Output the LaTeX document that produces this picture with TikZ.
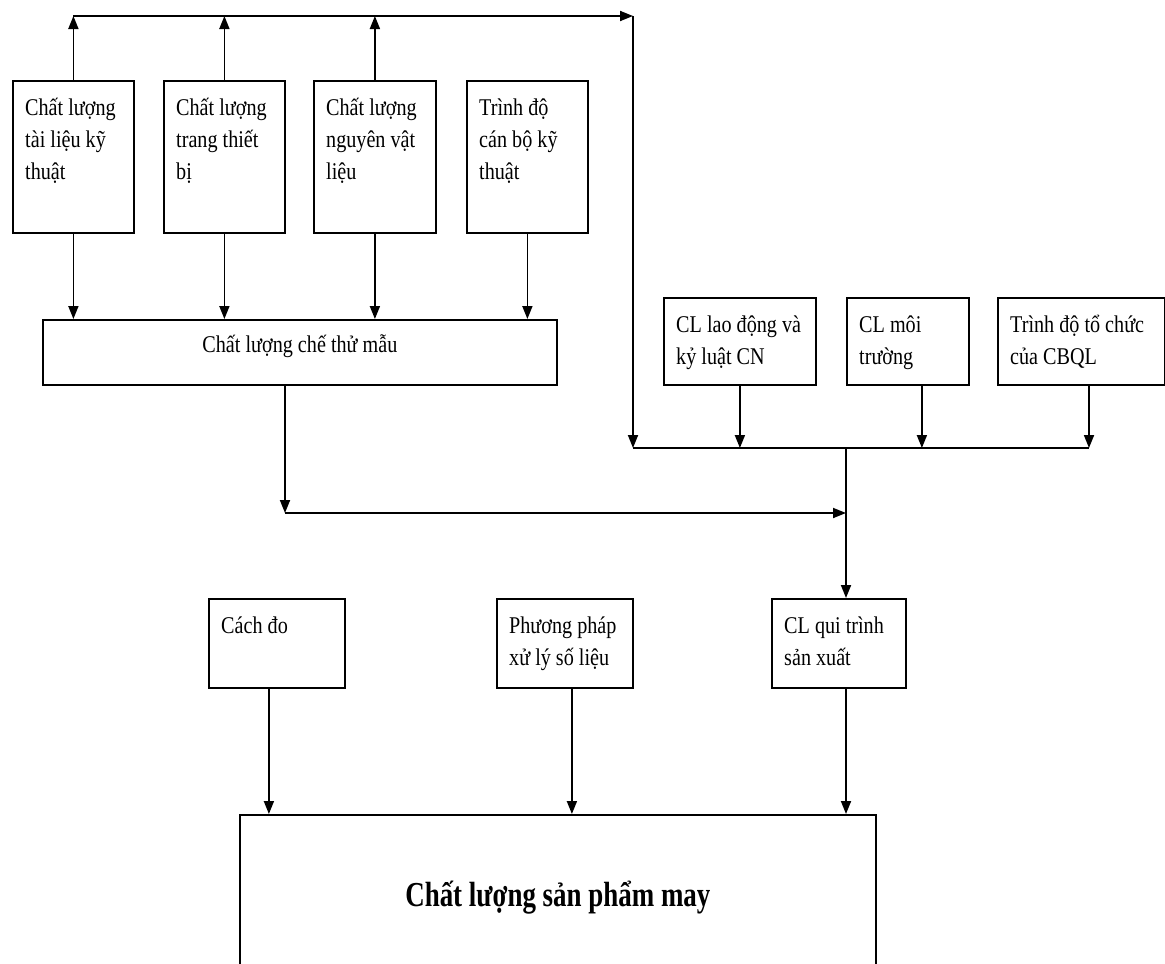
\documentclass[tikz,border=0pt]{standalone}
\usepackage{fontspec}
\setmainfont{Liberation Serif}[FakeStretch=0.84]
\newfontfamily\titlefont{Liberation Serif}[FakeStretch=0.77]
\usetikzlibrary{arrows.meta}

\tikzset{
  box/.style={draw, line width=1.8pt, anchor=north west, inner sep=0pt},
  txt/.style={anchor=north west, align=flush left, text width=170pt, inner sep=0pt,
    text height=16pt, xshift=13pt, yshift=-19pt},
  wire/.style={line width=1.8pt},
  arr/.style={wire, -{Triangle[length=13pt,width=10pt]}},
}

\begin{document}
\begin{tikzpicture}[x=1pt, y=-1pt, font=\fontsize{24}{32}\selectfont]
      \useasboundingbox (0,0) rectangle (1165,964);
      \clip (0,0) rectangle (1165,964);

      \node[box, minimum width=121, minimum height=152,
        label={[txt]north west:{Chất lượng\\tài liệu kỹ\\thuật}}] (b1) at (12,80) {};
      \node[box, minimum width=121, minimum height=152,
        label={[txt]north west:{Chất lượng\\trang thiết\\bị}}] (b2) at (163,80) {};
      \node[box, minimum width=122, minimum height=152,
        label={[txt]north west:{Chất lượng\\nguyên vật\\liệu}}] (b3) at (313,80) {};
      \node[box, minimum width=121, minimum height=152,
        label={[txt]north west:{Trình độ\\cán bộ kỹ\\thuật}}] (b4) at (466,80) {};
      \node[box, minimum width=514, minimum height=65,
        label={[yshift=6pt]center:Chất lượng chế thử mẫu}] (mid) at (42,319) {};

      \node[box, minimum width=152, minimum height=87,
        label={[txt]north west:{CL lao động và\\kỷ luật CN}}] (r1) at (663,297) {};
      \node[box, minimum width=122, minimum height=87,
        label={[txt]north west:{CL môi\\trường}}] (r2) at (846,297) {};
      \node[box, minimum width=167, minimum height=87,
        label={[txt]north west:{Trình độ tổ chức\\của CBQL}}] (r3) at (997,297) {};

      \node[box, minimum width=136, minimum height=89,
        label={[txt]north west:{Cách đo}}] (c1) at (208,598) {};
      \node[box, minimum width=136, minimum height=89,
        label={[txt]north west:{Phương pháp\\xử lý số liệu}}] (c2) at (496,598) {};
      \node[box, minimum width=134, minimum height=89,
        label={[txt]north west:{CL qui trình\\sản xuất}}] (c3) at (771,598) {};

      \node[box, minimum width=636, minimum height=166,
        font=\titlefont\bfseries\fontsize{35}{42}\selectfont] (product) at (239,814)
        {Chất lượng sản phẩm may};

      \coordinate (corner) at (633,16);
      \coordinate (busL) at (633,448);
      \coordinate (busR) at (1089,448);
      \coordinate (join) at (846,448);
      \coordinate (bend) at (285,513);

      \foreach \b in {b1,b2,b3}
        \draw[arr] (\b.north) -- (\b.north |- corner);
      \draw[arr] (b1.north |- corner) -- (corner);
      \draw[arr] (corner) -- (busL);
      \foreach \b in {b1,b2,b3,b4}
        \draw[arr] (\b.south) -- (\b.south |- mid.north);

      \draw[arr] (bend |- mid.south) -- (bend);
      \draw[arr] (bend) -- (bend -| join);

      \draw[wire] (busL) -- (busR);
      \draw[arr] (r1.south) -- (r1.south |- busL);
      \draw[arr] ([xshift=14pt]r2.south) -- ([xshift=14pt]r2.south |- busL);
      \draw[arr] (busR |- r3.south) -- (busR);
      \draw[arr] (join) -- (join |- c3.north);

      \draw[arr] ([xshift=-8pt]c1.south) -- ([xshift=-8pt]c1.south |- product.north);
      \draw[arr] ([xshift=7pt]c2.south) -- ([xshift=7pt]c2.south |- product.north);
      \draw[arr] (join |- c3.south) -- (join |- product.north);
    \end{tikzpicture}
\end{document}
